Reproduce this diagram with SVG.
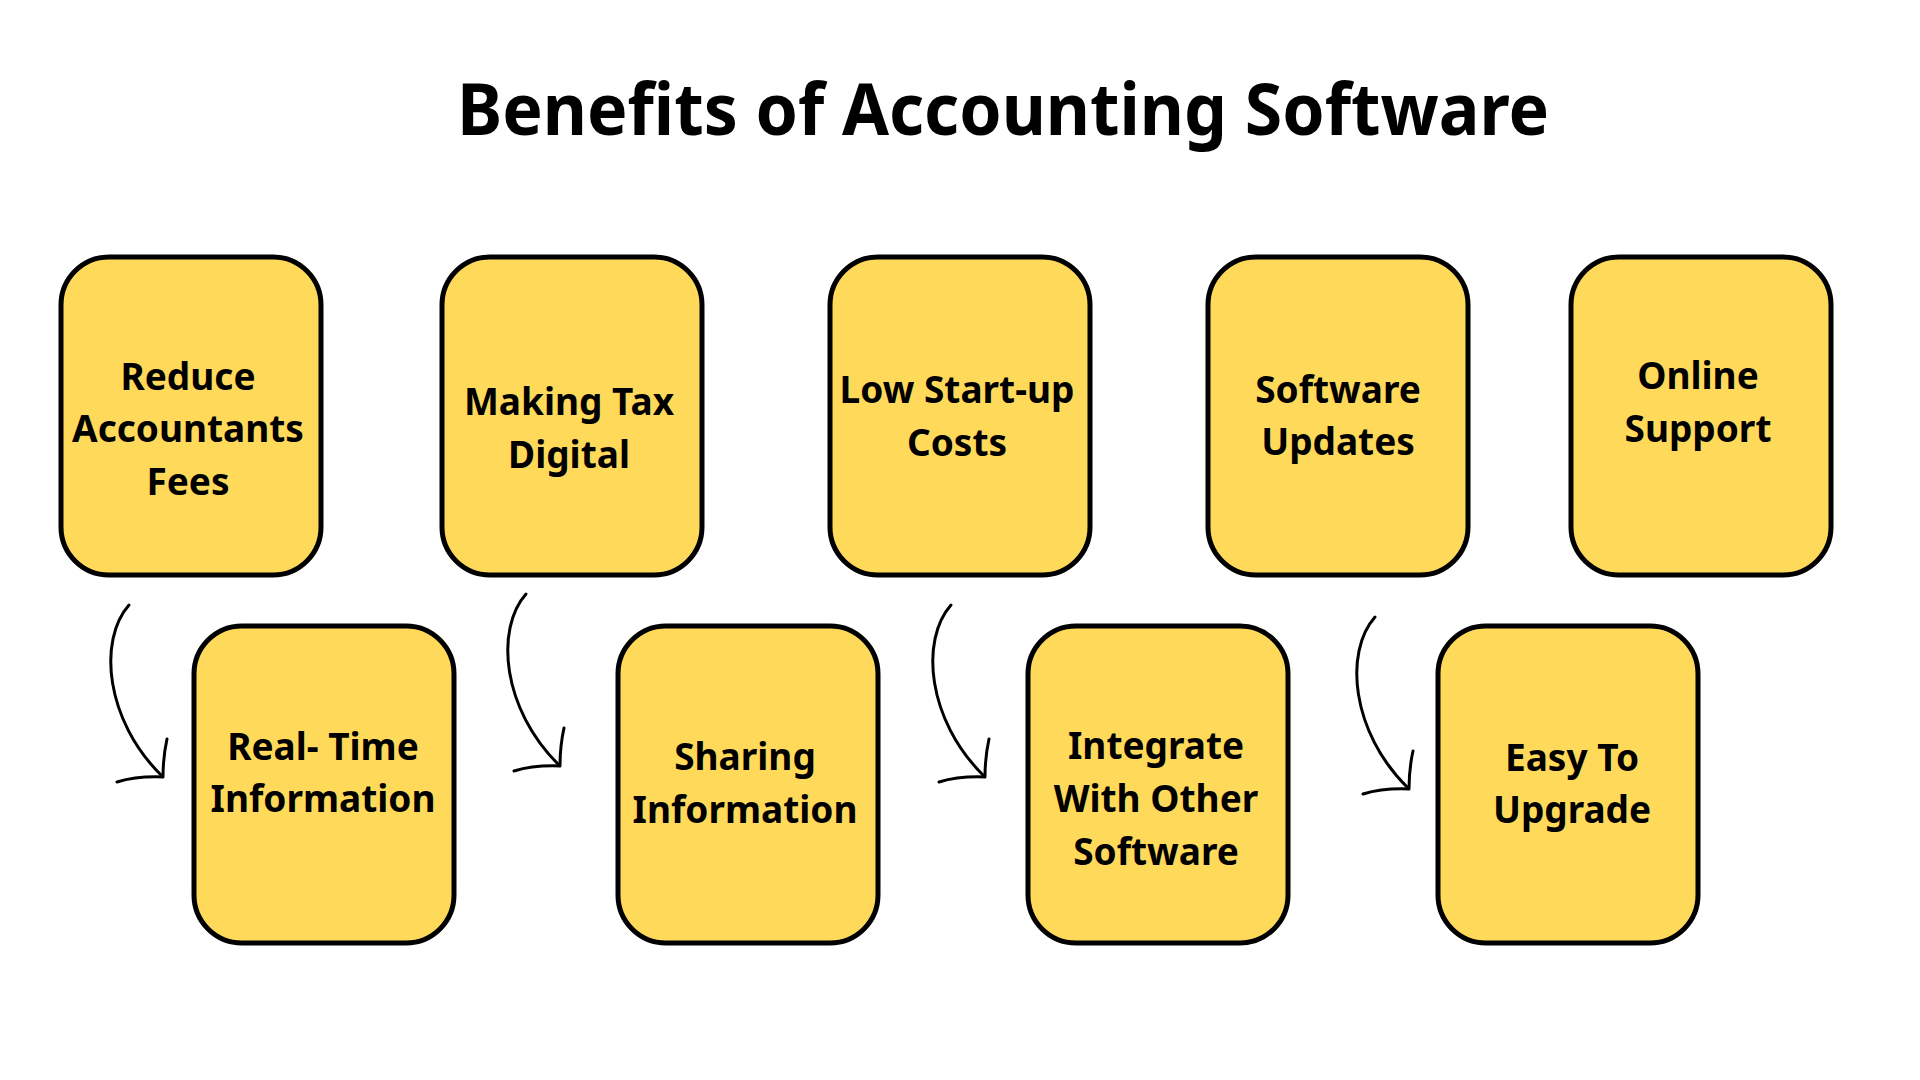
<svg xmlns="http://www.w3.org/2000/svg" width="1920" height="1080" viewBox="0 0 1920 1080">
  <style>
    .title { font-family: "Noto Sans", "Open Sans", "Liberation Sans", sans-serif; font-weight: 700; font-size: 72px; fill: #000; }
    .box { fill: #FFD95A; stroke: #000; stroke-width: 5; }
    .label { font-family: "Noto Sans", "Open Sans", "Liberation Sans", sans-serif; font-weight: 700; font-size: 37px; fill: #000; text-anchor: middle; }
    .arrow { fill: none; stroke: #000; stroke-width: 3; stroke-linecap: round; stroke-linejoin: round; }
  </style>
  <defs>
    <!-- hand-drawn curved arrow, tip at lower right -->
    <g id="curl">
      <path class="arrow" d="M129,605 C98,640 105,720 162,776"/>
      <path class="arrow" d="M167,739 Q163,757 163,777 Q137,776 117,782"/>
    </g>
  </defs>

  <rect width="1920" height="1080" fill="#fff"/>

  <text class="title" x="457" y="135" textLength="1092" lengthAdjust="spacingAndGlyphs">Benefits of Accounting Software</text>

  <g id="connectors">
    <use href="#curl"/>
    <use href="#curl" transform="translate(397,-11)"/>
    <use href="#curl" transform="translate(822,0)"/>
    <use href="#curl" transform="translate(1246,12)"/>
  </g>

  <g id="reduce-fees">
    <rect class="box" x="61" y="257" width="260" height="318" rx="48"/>
    <text class="label"><tspan x="188" y="390">Reduce</tspan><tspan x="188" y="442">Accountants</tspan><tspan x="188" y="495">Fees</tspan></text>
  </g>
  <g id="making-tax-digital">
    <rect class="box" x="442" y="257" width="260" height="318" rx="48"/>
    <text class="label"><tspan x="569" y="415">Making Tax</tspan><tspan x="569" y="468">Digital</tspan></text>
  </g>
  <g id="low-startup-costs">
    <rect class="box" x="830" y="257" width="260" height="318" rx="48"/>
    <text class="label"><tspan x="957" y="403">Low Start-up</tspan><tspan x="957" y="456">Costs</tspan></text>
  </g>
  <g id="software-updates">
    <rect class="box" x="1208" y="257" width="260" height="318" rx="48"/>
    <text class="label"><tspan x="1338" y="403">Software</tspan><tspan x="1338" y="455">Updates</tspan></text>
  </g>
  <g id="online-support">
    <rect class="box" x="1571" y="257" width="260" height="318" rx="48"/>
    <text class="label"><tspan x="1698" y="389">Online</tspan><tspan x="1698" y="442">Support</tspan></text>
  </g>

  <g id="real-time-information">
    <rect class="box" x="194" y="626" width="260" height="317" rx="48"/>
    <text class="label"><tspan x="323" y="760">Real- Time</tspan><tspan x="323" y="812">Information</tspan></text>
  </g>
  <g id="sharing-information">
    <rect class="box" x="618" y="626" width="260" height="317" rx="48"/>
    <text class="label"><tspan x="745" y="770">Sharing</tspan><tspan x="745" y="823">Information</tspan></text>
  </g>
  <g id="integrate-software">
    <rect class="box" x="1028" y="626" width="260" height="317" rx="48"/>
    <text class="label"><tspan x="1156" y="759">Integrate</tspan><tspan x="1156" y="812">With Other</tspan><tspan x="1156" y="865">Software</tspan></text>
  </g>
  <g id="easy-upgrade">
    <rect class="box" x="1438" y="626" width="260" height="317" rx="48"/>
    <text class="label"><tspan x="1572" y="771">Easy To</tspan><tspan x="1572" y="823">Upgrade</tspan></text>
  </g>
</svg>
